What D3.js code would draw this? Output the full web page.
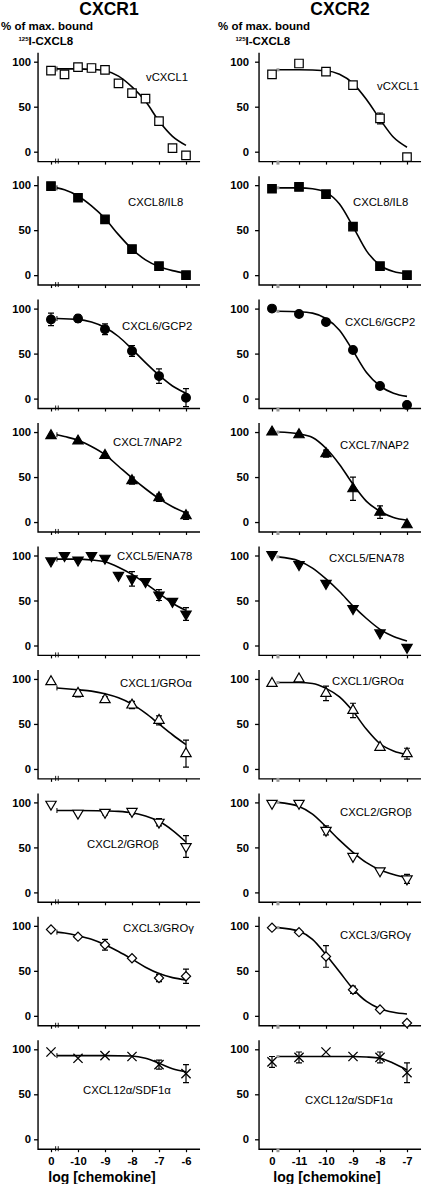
<!DOCTYPE html>
<html><head><meta charset="utf-8">
<script src="https://cdn.jsdelivr.net/npm/d3@7"></script>
<style>body{margin:0;background:#fff}svg{display:block}</style>
</head><body>
<svg id="c" width="422" height="1184"></svg>
<script>
// ---------------- DATA ----------------
const columnTitles = ["CXCR1", "CXCR2"];
const panelNames = ["vCXCL1","CXCL8/IL8","CXCL6/GCP2","CXCL7/NAP2","CXCL5/ENA78","CXCL1/GROα","CXCL2/GROβ","CXCL3/GROγ","CXCL12α/SDF1α"];
const markerTypes = ["openSquare","square","circle","triangle","triangleDown","openTriangle","openTriangleDown","openDiamond","cross"];
const yTicks = [0, 50, 100];
const xTicksCXCR1 = [-11, -10, -9, -8, -7, -6];
const xLabelsCXCR1 = ["0", "-10", "-9", "-8", "-7", "-6"];
const xTicksCXCR2 = [-12, -11, -10, -9, -8, -7];
const xLabelsCXCR2 = ["0", "-11", "-10", "-9", "-8", "-7"];

const halfLogsL = [-11, -10.5, -10, -9.5, -9, -8.5, -8, -7.5, -7, -6.5, -6];
// CXCR1 measured points: [log conc, % bound, error]
const vCXCL1_R1 = halfLogsL.map((l, i) => [l, [90,86,94,93,91,76,65,59,34,4,-4][i], [2,3,2,4,2,2,2,2,3,2,2][i]]);
const CXCL8_R1  = xTicksCXCR1.map((l, i) => [l, [99,86,62,29,10,0][i], [1,3,2,2,1,1][i]]);
const CXCL6_R1  = xTicksCXCR1.map((l, i) => [l, [88,89,77,53,25,1][i], [7,4,6,6,8,10][i]]);
const CXCL7_R1  = xTicksCXCR1.map((l, i) => [l, [96,90,74,46,27,7][i], [1,1,2,4,4,4][i]]);
const CXCL5_R1  = halfLogsL.map((l, i) => [l, [94,100,95,100,97,78,74,71,56,49,35][i], [0,0,0,0,0,0,8,0,6,0,7][i]]);
const CXCL1_R1  = xTicksCXCR1.map((l, i) => [l, [97,84,77,71,54,17][i], [0,4,3,4,5,15][i]]);
const CXCL2_R1  = xTicksCXCR1.map((l, i) => [l, [98,88,89,90,78,51][i], [0,0,3,3,4,12][i]]);
const CXCL3_R1  = xTicksCXCR1.map((l, i) => [l, [96,88,79,64,42,44][i], [0,0,6,0,4,8][i]]);
const CXCL12_R1 = xTicksCXCR1.map((l, i) => [l, [97,90,93,92,83,73][i], [0,0,0,0,5,10][i]]);
// CXCR2 measured points
const vCXCL1_R2 = xTicksCXCR2.map((l, i) => [l, [86,98,89,74,37,-6][i], [3,0,0,0,6,0][i]]);
const CXCL8_R2  = xTicksCXCR2.map((l, i) => [l, [96,98,90,54,10,0][i], [0,0,3,3,0,0][i]]);
const CXCL6_R2  = xTicksCXCR2.map((l, i) => [l, [100,94,85,54,14,-7][i], [0,0,0,0,0,0][i]]);
const CXCL7_R2  = xTicksCXCR2.map((l, i) => [l, [100,97,76,37,11,-3][i], [0,0,4,13,7,0][i]]);
const CXCL5_R2  = xTicksCXCR2.map((l, i) => [l, [101,90,69,41,14,-2][i], [0,0,0,0,0,0][i]]);
const CXCL1_R2  = xTicksCXCR2.map((l, i) => [l, [95,100,84,65,24,17][i], [0,0,8,8,0,6][i]]);
const CXCL2_R2  = xTicksCXCR2.map((l, i) => [l, [99,99,69,40,24,15][i], [0,0,5,0,0,5][i]]);
const CXCL3_R2  = xTicksCXCR2.map((l, i) => [l, [98,93,66,29,7,-8][i], [0,0,12,4,0,0][i]]);
const CXCL12_R2 = xTicksCXCR2.map((l, i) => [l, [86,91,97,92,91,74][i], [6,6,0,0,6,11][i]]);

// fitted curves: [log conc, % bound]
const curvesCXCR1 = [
  [[-10.78,92],[-10,92],[-9.5,91.5],[-9,90],[-8.5,84],[-8,72],[-7.5,56],[-7,34],[-6.5,17],[-6,7]],
  [[-10.78,97],[-10.5,95],[-10,88],[-9.5,77],[-9,63],[-8.5,45],[-8,29],[-7.5,17],[-7,9.5],[-6.5,5],[-6,2]],
  [[-10.78,89],[-10,88],[-9.5,85],[-9,79],[-8.5,69],[-8,55],[-7.5,40],[-7,26],[-6.5,14],[-6,6]],
  [[-10.78,97],[-10.5,95],[-10,91],[-9.5,84],[-9,75],[-8.5,62],[-8,49],[-7.5,37],[-7,26],[-6.5,17],[-6,10]],
  [[-10.78,96],[-10,96],[-9.5,95],[-9,93],[-8.5,87],[-8,79],[-7.5,69],[-7,58],[-6.5,47],[-6,39]],
  [[-10.78,90],[-10,88],[-9.5,86.5],[-9,83.5],[-8.5,79],[-8,72],[-7.5,62],[-7,50],[-6.5,38],[-6,27]],
  [[-10.78,91],[-10,91],[-9,90.5],[-8.5,90],[-8,88.5],[-7.5,85],[-7,79],[-6.5,69],[-6,56]],
  [[-10.78,93],[-10.5,92],[-10,89],[-9.5,85],[-9,79],[-8.5,71.5],[-8,63],[-7.5,54],[-7,47],[-6.5,42.5],[-6,40]],
  [[-10.78,93],[-10,93],[-9,93],[-8,92.5],[-7.5,90],[-7,84.5],[-6.5,78.5],[-6,75]]
];
const curvesCXCR2 = [
  [[-11.78,91],[-11,91],[-10,90],[-9.5,86],[-9,76],[-8.5,58],[-8,36],[-7.5,16],[-7,5]],
  [[-11.78,97],[-11,97],[-10.5,96],[-10,92],[-9.5,79],[-9,54],[-8.5,27],[-8,11],[-7.5,4],[-7,1.5]],
  [[-11.78,97],[-11,96.5],[-10.5,95],[-10,89],[-9.5,76],[-9,53],[-8.5,29],[-8,14],[-7.5,6],[-7,2.5]],
  [[-11.78,100],[-11,98],[-10.5,94],[-10,82],[-9.5,64],[-9,42],[-8.5,23],[-8,12],[-7.5,5],[-7,2]],
  [[-11.78,98.5],[-11,94],[-10.5,86],[-10,74],[-9.5,60],[-9,44],[-8.5,30],[-8,18],[-7.5,10],[-7,5]],
  [[-11.78,96],[-11,96],[-10.5,95],[-10,89.5],[-9.5,80],[-9,64],[-8.5,44],[-8,28],[-7.5,20],[-7,16]],
  [[-11.78,100],[-11,95.5],[-10.5,87],[-10,73],[-9.5,58],[-9,44.5],[-8.5,33],[-8,25],[-7.5,20],[-7,16.5]],
  [[-11.78,98],[-11,94],[-10.5,85],[-10,68],[-9.5,49],[-9,30],[-8.5,16],[-8,8],[-7.5,4],[-7,2]],
  [[-11.78,92],[-11,92],[-10,92],[-9,92],[-8.5,91.5],[-8,90],[-7.5,84.5],[-7,77]]
];
const pointsCXCR1 = [vCXCL1_R1, CXCL8_R1, CXCL6_R1, CXCL7_R1, CXCL5_R1, CXCL1_R1, CXCL2_R1, CXCL3_R1, CXCL12_R1];
const pointsCXCR2 = [vCXCL1_R2, CXCL8_R2, CXCL6_R2, CXCL7_R2, CXCL5_R2, CXCL1_R2, CXCL2_R2, CXCL3_R2, CXCL12_R2];

// ---------------- LAYOUT ----------------
const FONT = "'Liberation Sans', Arial, Helvetica, sans-serif";
const panelTop0 = 61.7, panelStep = 123.45, panelH = 90;
// label anchor: [x pixel (start), value at text centre]
const labelPosCXCR1 = [[146,82.6],[128,81],[122,81],[113,88.8],[117,99],[120,96],[87,54],[123,97.8],[83,54.8]];
const labelPosCXCR2 = [[377,73],[353,81],[345,85],[340,86],[329,97],[332,97.4],[340,89.7],[340,89.7],[305,43.7]];

const cols = [
  {title: columnTitles[0], titleX: 109, yLabX: 1, xDomain: [-11, -6], xRange: [51, 186], axisLog: [-11.48, -5.48],
   ticks: xTicksCXCR1, labels: xLabelsCXCR1, points: pointsCXCR1, curves: curvesCXCR1, labelPos: labelPosCXCR1,
   tickPad: 3, breakLog: -10.78, side: "L", xTitleX: 102},
  {title: columnTitles[1], titleX: 340, yLabX: 218, xDomain: [-12, -7], xRange: [272, 407], axisLog: [-12.48, -6.48],
   ticks: xTicksCXCR2, labels: xLabelsCXCR2, points: pointsCXCR2, curves: curvesCXCR2, labelPos: labelPosCXCR2,
   tickPad: 6, breakLog: -11.78, side: "R", xTitleX: 327}
];

const svg = d3.select("#c");
svg.append("rect").attr("width", 422).attr("height", 1184).attr("fill", "#fff");

function markerPath(type) {
  switch (type) {
    case "openSquare": case "square": return d3.symbol(d3.symbolSquare, 72)();
    case "circle": return d3.symbol(d3.symbolCircle, 60)();
    case "triangle": case "openTriangle": return d3.symbol(d3.symbolTriangle, 46)();
    case "triangleDown": case "openTriangleDown": return d3.symbol(d3.symbolTriangle, 46)();
    case "openDiamond": return d3.symbol(d3.symbolSquare, 42)();
    case "cross": return "M-4.6,-4.6L4.6,4.6M-4.6,4.6L4.6,-4.6";
  }
}
function markerTransform(type) {
  if (type === "triangleDown" || type === "openTriangleDown") return " rotate(180)";
  if (type === "openDiamond") return " rotate(45)";
  return "";
}
function markerFill(type) {
  if (type === "square" || type === "circle" || type === "triangle" || type === "triangleDown") return "#000";
  if (type === "cross") return "none";
  return "#fff";
}

cols.forEach((c) => {
  const x = d3.scaleLinear().domain(c.xDomain).range(c.xRange);
  const axisX = x(c.axisLog[0]);
  const axisXEnd = x(c.axisLog[1]);

  // column title
  svg.append("text").attr("x", c.titleX).attr("y", 15).attr("text-anchor", "middle")
    .attr("font-family", FONT).attr("font-weight", "bold").attr("font-size", 17.5).text(c.title);
  // y title
  svg.append("text").attr("x", c.yLabX).attr("y", 30).attr("font-family", FONT).attr("font-weight", "bold")
    .attr("font-size", 11.5).text("% of max. bound");
  const t2 = svg.append("text").attr("x", c.yLabX + 17.5).attr("y", 45).attr("font-family", FONT)
    .attr("font-weight", "bold").attr("font-size", 11.5);
  t2.append("tspan").attr("font-size", 6).attr("dy", -4.5).text("125");
  t2.append("tspan").attr("dy", 4.5).text("I-CXCL8");

  for (let i = 0; i < 9; i++) {
    const y100 = panelTop0 + panelStep * i;
    const y = d3.scaleLinear().domain([0, 100]).range([y100 + panelH, y100]);
    const g = svg.append("g");
    const baseY = y(-11), topY = y(110);

    // y axis ticks + labels
    g.append("g").attr("transform", `translate(${axisX},0)`)
      .call(d3.axisLeft(y).tickValues(yTicks).tickSize(4).tickPadding(c.tickPad))
      .call(a => a.select(".domain").remove())
      .call(a => a.selectAll("line").attr("stroke", "#000").attr("stroke-width", 1.3))
      .call(a => a.selectAll("text").attr("font-family", FONT).attr("font-weight", "bold")
        .attr("font-size", 11.3).attr("fill", "#000"));

    // x axis ticks (labels only on bottom row)
    const isBottom = i === 8;
    g.append("g").attr("transform", `translate(0,${baseY})`)
      .call(d3.axisBottom(x).tickValues(c.ticks).tickSize(3).tickPadding(5)
        .tickFormat((d, k) => isBottom ? c.labels[k] : ""))
      .call(a => a.select(".domain").remove())
      .call(a => a.selectAll("line").attr("stroke", "#000").attr("stroke-width", 1.2))
      .call(a => a.selectAll("text").attr("font-family", FONT).attr("font-weight", "bold")
        .attr("font-size", 11.3).attr("fill", "#000"));

    // axis lines
    g.append("path").attr("d", `M${axisX},${topY}V${baseY}H${axisXEnd}`)
      .attr("fill", "none").attr("stroke", "#000").attr("stroke-width", 1.4);

    // axis break marks
    const bx = x(c.breakLog);
    if (c.side === "L") {
      [-1.3, 1.3].forEach(o => g.append("line").attr("x1", bx + o).attr("x2", bx + o)
        .attr("y1", baseY - 3).attr("y2", baseY + 2).attr("stroke", "#000").attr("stroke-width", 0.9));
    } else {
      g.append("rect").attr("x", bx - 1.5).attr("y", baseY - 1).attr("width", 3).attr("height", 4).attr("fill", "#999");
    }

    // curve
    const cv = c.curves[i];
    g.append("path").datum(cv)
      .attr("d", d3.line().x(d => x(d[0])).y(d => y(d[1])).curve(d3.curveMonotoneX))
      .attr("fill", "none").attr("stroke", "#000").attr("stroke-width", 1.6);
    const s0 = cv[0];
    if (c.side === "L") {
      g.append("line").attr("x1", x(s0[0])).attr("x2", x(s0[0])).attr("y1", y(s0[1]) - 2.5).attr("y2", y(s0[1]) + 2.5)
        .attr("stroke", "#000").attr("stroke-width", 1);
    } else {
      g.append("rect").attr("x", x(s0[0]) - 1.5).attr("y", y(s0[1]) - 1.5).attr("width", 3).attr("height", 3).attr("fill", "#999");
    }

    // error bars
    const pts = c.points[i];
    pts.filter(p => p[2] > 0).forEach(p => {
      const px = x(p[0]);
      g.append("path").attr("d",
        `M${px},${y(p[1] - p[2])}V${y(p[1] + p[2])}M${px - 3},${y(p[1] + p[2])}H${px + 3}M${px - 3},${y(p[1] - p[2])}H${px + 3}`)
        .attr("fill", "none").attr("stroke", "#000").attr("stroke-width", 1.2);
    });

    // markers
    const type = markerTypes[i];
    g.selectAll("path.m").data(pts).join("path").attr("class", "m")
      .attr("d", markerPath(type))
      .attr("transform", d => `translate(${x(d[0])},${y(d[1])})` + markerTransform(type))
      .attr("fill", markerFill(type)).attr("stroke", "#000")
      .attr("stroke-width", type === "cross" ? 1.3 : 1.2);

    // panel label
    const lp = c.labelPos[i];
    g.append("text").attr("x", lp[0]).attr("y", y(lp[1]) + 4)
      .attr("font-family", FONT).attr("font-size", 11.3).attr("fill", "#000").text(panelNames[i]);
  }

  // x-axis title
  svg.append("text").attr("x", c.xTitleX).attr("y", 1182).attr("text-anchor", "middle")
    .attr("font-family", FONT).attr("font-weight", "bold").attr("font-size", 14).text("log [chemokine]");
});
</script>
</body></html>
